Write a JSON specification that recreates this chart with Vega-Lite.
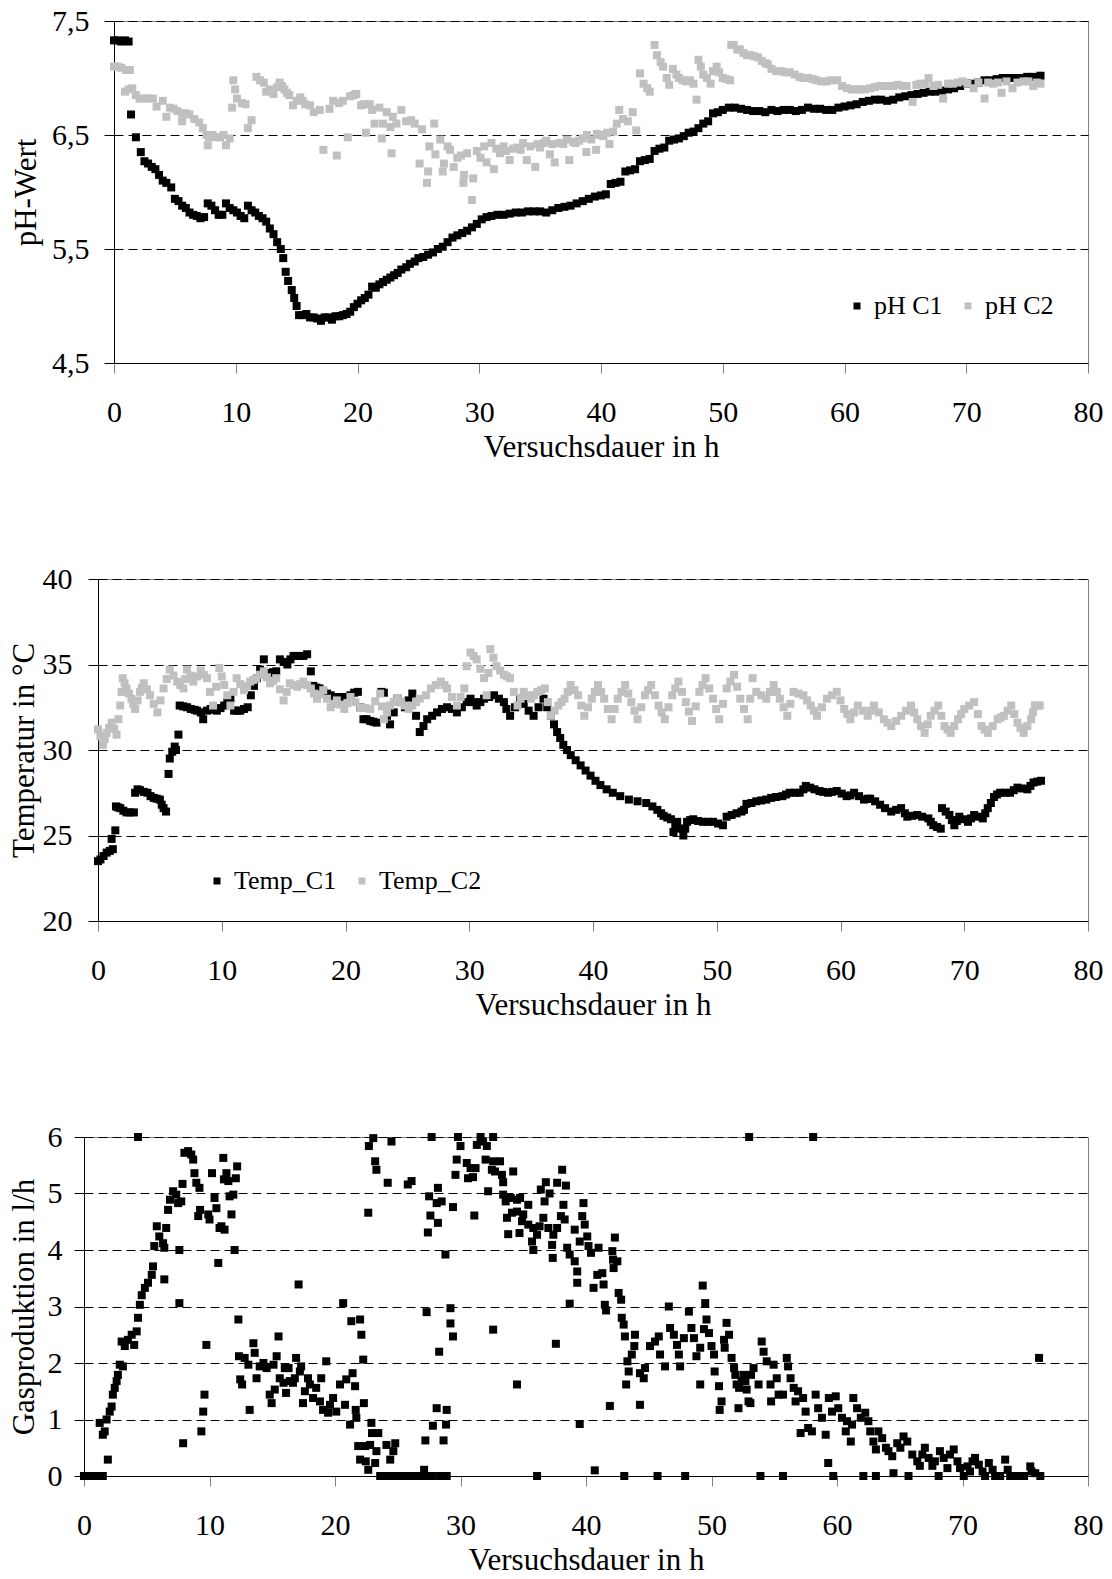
{
"$schema": "https://vega.github.io/schema/vega-lite/v6.json",
"background": "white",
"padding": {"left": 0, "top": 5, "right": 0, "bottom": 0},
"spacing": 100,
"resolve": {"scale": {"x": "independent", "y": "independent", "color": "independent"}, "legend": {"color": "independent"}},
"config": {
  "font": "Liberation Serif",
  "view": {"stroke": "#808080", "strokeWidth": 1},
  "axis": {"labelFont": "Liberation Serif", "titleFont": "Liberation Serif", "labelFontSize": 30, "titleFontSize": 31, "titleFontWeight": "normal", "labelColor": "#000000", "titleColor": "#000000", "domainColor": "#000000", "domainWidth": 1, "tickSize": 10, "tickWidth": 1, "labelFlush": false, "labelOverlap": false},
  "axisX": {"grid": false, "tickColor": "#808080", "labelPadding": 24},
  "axisY": {"grid": true, "gridColor": "#000000", "gridDash": [9, 5], "gridWidth": 1, "tickColor": "#000000"},
  "legend": {"orient": "none", "direction": "horizontal", "labelFont": "Liberation Serif", "labelFontSize": 26, "labelColor": "#000000", "symbolType": "square", "symbolSize": 49, "symbolStrokeWidth": 0, "labelOffset": 4, "columnPadding": 12, "padding": 0}
},
"datasets": {
"ph1": [{"t":0,"y":7.33},{"t":0.3,"y":7.33},{"t":0.6,"y":7.32},{"t":0.9,"y":7.33},{"t":1.2,"y":7.32},{"t":1.4,"y":6.68},{"t":1.8,"y":6.48},{"t":2.2,"y":6.35},{"t":2.5,"y":6.27},{"t":2.8,"y":6.25},{"t":3.1,"y":6.22},{"t":3.4,"y":6.2},{"t":3.7,"y":6.15},{"t":4.0,"y":6.1},{"t":4.3,"y":6.08},{"t":4.7,"y":6.04},{"t":5.0,"y":5.94},{"t":5.3,"y":5.92},{"t":5.6,"y":5.88},{"t":5.9,"y":5.86},{"t":6.2,"y":5.82},{"t":6.5,"y":5.8},{"t":6.8,"y":5.79},{"t":7.1,"y":5.77},{"t":7.4,"y":5.78},{"t":7.7,"y":5.9},{"t":8.0,"y":5.88},{"t":8.3,"y":5.84},{"t":8.6,"y":5.8},{"t":8.9,"y":5.8},{"t":9.2,"y":5.9},{"t":9.5,"y":5.86},{"t":9.8,"y":5.84},{"t":10.1,"y":5.82},{"t":10.4,"y":5.79},{"t":10.7,"y":5.77},{"t":11.0,"y":5.88},{"t":11.3,"y":5.84},{"t":11.6,"y":5.82},{"t":11.9,"y":5.79},{"t":12.2,"y":5.77},{"t":12.5,"y":5.74},{"t":12.8,"y":5.68},{"t":13.1,"y":5.63},{"t":13.4,"y":5.56},{"t":13.7,"y":5.5},{"t":13.9,"y":5.42},{"t":14.1,"y":5.3},{"t":14.3,"y":5.22},{"t":14.6,"y":5.14},{"t":14.8,"y":5.07},{"t":15.0,"y":5.0},{"t":15.2,"y":4.92},{"t":15.5,"y":4.92},{"t":15.8,"y":4.93},{"t":16.1,"y":4.9},{"t":16.4,"y":4.9},{"t":16.7,"y":4.89},{"t":17.0,"y":4.87},{"t":17.3,"y":4.9},{"t":17.6,"y":4.9},{"t":17.9,"y":4.88},{"t":18.2,"y":4.91},{"t":18.5,"y":4.91},{"t":18.8,"y":4.92},{"t":19.1,"y":4.93},{"t":19.4,"y":4.95},{"t":19.7,"y":4.99},{"t":20.0,"y":5.02},{"t":20.3,"y":5.05},{"t":20.6,"y":5.07},{"t":20.9,"y":5.1},{"t":21.2,"y":5.17},{"t":21.5,"y":5.16},{"t":21.8,"y":5.19},{"t":22.1,"y":5.21},{"t":22.4,"y":5.23},{"t":22.7,"y":5.25},{"t":23.0,"y":5.27},{"t":23.3,"y":5.29},{"t":23.6,"y":5.32},{"t":24.0,"y":5.34},{"t":24.3,"y":5.37},{"t":24.7,"y":5.39},{"t":25.0,"y":5.42},{"t":25.4,"y":5.43},{"t":25.8,"y":5.45},{"t":26.2,"y":5.47},{"t":26.6,"y":5.5},{"t":27.0,"y":5.52},{"t":27.4,"y":5.56},{"t":27.8,"y":5.6},{"t":28.2,"y":5.62},{"t":28.6,"y":5.64},{"t":29.0,"y":5.66},{"t":29.4,"y":5.69},{"t":29.8,"y":5.72},{"t":30.2,"y":5.76},{"t":30.6,"y":5.78},{"t":31.0,"y":5.79},{"t":31.5,"y":5.8},{"t":32.0,"y":5.8},{"t":32.5,"y":5.81},{"t":33.0,"y":5.82},{"t":33.5,"y":5.82},{"t":34.0,"y":5.83},{"t":34.5,"y":5.83},{"t":35.0,"y":5.83},{"t":35.5,"y":5.82},{"t":36.0,"y":5.84},{"t":36.5,"y":5.86},{"t":37.0,"y":5.87},{"t":37.5,"y":5.88},{"t":38.0,"y":5.9},{"t":38.5,"y":5.92},{"t":39.0,"y":5.94},{"t":39.5,"y":5.96},{"t":40.0,"y":5.97},{"t":40.4,"y":5.98},{"t":40.8,"y":6.07},{"t":41.2,"y":6.08},{"t":41.6,"y":6.09},{"t":42.0,"y":6.18},{"t":42.4,"y":6.19},{"t":42.8,"y":6.2},{"t":43.2,"y":6.27},{"t":43.6,"y":6.28},{"t":44.0,"y":6.29},{"t":44.4,"y":6.36},{"t":44.8,"y":6.38},{"t":45.2,"y":6.39},{"t":45.6,"y":6.45},{"t":46.0,"y":6.46},{"t":46.4,"y":6.47},{"t":46.8,"y":6.49},{"t":47.2,"y":6.52},{"t":47.6,"y":6.53},{"t":48.0,"y":6.56},{"t":48.4,"y":6.6},{"t":48.8,"y":6.62},{"t":49.2,"y":6.69},{"t":49.6,"y":6.7},{"t":50.0,"y":6.72},{"t":50.5,"y":6.74},{"t":51.0,"y":6.74},{"t":51.5,"y":6.73},{"t":52.0,"y":6.72},{"t":52.5,"y":6.71},{"t":53.0,"y":6.71},{"t":53.5,"y":6.7},{"t":54.0,"y":6.72},{"t":54.5,"y":6.71},{"t":55.0,"y":6.72},{"t":55.5,"y":6.72},{"t":56.0,"y":6.71},{"t":56.5,"y":6.72},{"t":57.0,"y":6.74},{"t":57.5,"y":6.73},{"t":58.0,"y":6.73},{"t":58.5,"y":6.72},{"t":59.0,"y":6.72},{"t":59.5,"y":6.74},{"t":60.0,"y":6.75},{"t":60.5,"y":6.76},{"t":61.0,"y":6.77},{"t":61.5,"y":6.79},{"t":62.0,"y":6.8},{"t":62.5,"y":6.81},{"t":63.0,"y":6.81},{"t":63.5,"y":6.8},{"t":64.0,"y":6.81},{"t":64.5,"y":6.83},{"t":65.0,"y":6.84},{"t":65.5,"y":6.85},{"t":66.0,"y":6.86},{"t":66.5,"y":6.87},{"t":67.0,"y":6.88},{"t":67.5,"y":6.88},{"t":68.0,"y":6.89},{"t":68.5,"y":6.9},{"t":69.0,"y":6.91},{"t":69.5,"y":6.93},{"t":70.0,"y":6.95},{"t":70.5,"y":6.95},{"t":71.0,"y":6.96},{"t":71.5,"y":6.98},{"t":72.0,"y":6.98},{"t":72.5,"y":6.99},{"t":73.0,"y":7.0},{"t":73.5,"y":7.0},{"t":74.0,"y":7.0},{"t":74.5,"y":7.0},{"t":75.0,"y":7.01},{"t":75.5,"y":7.01},{"t":76.1,"y":7.02}],
"ph2": [{"t":0,"y":7.1},{"t":0.3,"y":7.1},{"t":0.6,"y":7.09},{"t":1.0,"y":7.07},{"t":1.3,"y":7.07},{"t":0.9,"y":6.88},{"t":1.2,"y":6.9},{"t":1.5,"y":6.91},{"t":1.8,"y":6.85},{"t":2.1,"y":6.82},{"t":2.5,"y":6.82},{"t":2.8,"y":6.82},{"t":3.2,"y":6.82},{"t":3.5,"y":6.75},{"t":4.0,"y":6.8},{"t":4.3,"y":6.66},{"t":4.6,"y":6.74},{"t":4.9,"y":6.73},{"t":5.2,"y":6.71},{"t":5.6,"y":6.69},{"t":5.6,"y":6.62},{"t":5.9,"y":6.69},{"t":6.2,"y":6.68},{"t":6.6,"y":6.64},{"t":7.0,"y":6.61},{"t":7.3,"y":6.56},{"t":7.6,"y":6.5},{"t":7.8,"y":6.48},{"t":7.7,"y":6.41},{"t":8.1,"y":6.5},{"t":8.4,"y":6.48},{"t":8.7,"y":6.48},{"t":9.0,"y":6.5},{"t":9.2,"y":6.41},{"t":9.5,"y":6.47},{"t":9.7,"y":6.74},{"t":9.8,"y":6.98},{"t":9.95,"y":6.9},{"t":10.1,"y":6.82},{"t":10.5,"y":6.78},{"t":10.8,"y":6.77},{"t":11.0,"y":6.56},{"t":11.3,"y":6.63},{"t":11.7,"y":7.01},{"t":12.0,"y":6.98},{"t":12.3,"y":6.96},{"t":12.5,"y":6.88},{"t":12.8,"y":6.9},{"t":13.1,"y":6.86},{"t":13.4,"y":6.92},{"t":13.6,"y":6.96},{"t":13.8,"y":6.93},{"t":14.0,"y":6.9},{"t":14.2,"y":6.87},{"t":14.4,"y":6.85},{"t":14.7,"y":6.76},{"t":15.0,"y":6.8},{"t":15.3,"y":6.83},{"t":15.5,"y":6.8},{"t":15.7,"y":6.77},{"t":16.1,"y":6.76},{"t":16.4,"y":6.7},{"t":16.9,"y":6.72},{"t":17.2,"y":6.37},{"t":17.7,"y":6.73},{"t":18.0,"y":6.8},{"t":18.3,"y":6.32},{"t":18.5,"y":6.78},{"t":18.8,"y":6.8},{"t":19.2,"y":6.48},{"t":19.4,"y":6.84},{"t":19.7,"y":6.85},{"t":19.9,"y":6.86},{"t":20.3,"y":6.76},{"t":20.5,"y":6.77},{"t":20.7,"y":6.52},{"t":21.0,"y":6.77},{"t":21.2,"y":6.72},{"t":21.4,"y":6.6},{"t":21.8,"y":6.74},{"t":22.0,"y":6.47},{"t":22.1,"y":6.6},{"t":22.4,"y":6.7},{"t":22.7,"y":6.57},{"t":22.8,"y":6.34},{"t":22.9,"y":6.66},{"t":23.2,"y":6.6},{"t":23.6,"y":6.72},{"t":24.0,"y":6.62},{"t":24.4,"y":6.63},{"t":24.7,"y":6.6},{"t":25.1,"y":6.25},{"t":25.3,"y":6.55},{"t":25.7,"y":6.08},{"t":25.8,"y":6.18},{"t":25.9,"y":6.4},{"t":26.3,"y":6.6},{"t":26.4,"y":6.33},{"t":26.8,"y":6.46},{"t":27.0,"y":6.18},{"t":27.1,"y":6.25},{"t":27.4,"y":6.4},{"t":27.6,"y":6.37},{"t":27.9,"y":6.22},{"t":28.2,"y":6.3},{"t":28.5,"y":6.32},{"t":28.7,"y":6.08},{"t":28.75,"y":6.15},{"t":29.0,"y":6.34},{"t":29.4,"y":5.93},{"t":29.5,"y":6.12},{"t":29.8,"y":6.36},{"t":30.1,"y":6.3},{"t":30.4,"y":6.4},{"t":30.6,"y":6.26},{"t":31.0,"y":6.43},{"t":31.2,"y":6.2},{"t":31.4,"y":6.38},{"t":31.7,"y":6.34},{"t":32.0,"y":6.4},{"t":32.2,"y":6.36},{"t":32.5,"y":6.28},{"t":32.8,"y":6.38},{"t":33.1,"y":6.39},{"t":33.4,"y":6.37},{"t":33.6,"y":6.43},{"t":33.9,"y":6.28},{"t":34.2,"y":6.4},{"t":34.6,"y":6.22},{"t":34.8,"y":6.42},{"t":35.0,"y":6.39},{"t":35.3,"y":6.43},{"t":35.5,"y":6.45},{"t":35.8,"y":6.33},{"t":36.0,"y":6.42},{"t":36.2,"y":6.26},{"t":36.6,"y":6.43},{"t":36.9,"y":6.42},{"t":37.2,"y":6.46},{"t":37.4,"y":6.28},{"t":37.7,"y":6.44},{"t":37.9,"y":6.43},{"t":38.2,"y":6.45},{"t":38.5,"y":6.47},{"t":38.8,"y":6.35},{"t":38.85,"y":6.5},{"t":39.2,"y":6.46},{"t":39.6,"y":6.37},{"t":39.65,"y":6.51},{"t":39.9,"y":6.5},{"t":40.2,"y":6.49},{"t":40.5,"y":6.52},{"t":40.7,"y":6.42},{"t":41.0,"y":6.53},{"t":41.3,"y":6.6},{"t":41.5,"y":6.72},{"t":41.8,"y":6.64},{"t":42.2,"y":6.62},{"t":42.6,"y":6.7},{"t":42.9,"y":6.54},{"t":43.2,"y":7.04},{"t":43.5,"y":6.95},{"t":43.8,"y":6.91},{"t":44.0,"y":6.88},{"t":44.4,"y":7.29},{"t":44.6,"y":7.2},{"t":44.9,"y":7.14},{"t":45.1,"y":7.1},{"t":45.4,"y":7.0},{"t":45.6,"y":6.94},{"t":45.9,"y":7.08},{"t":46.2,"y":7.03},{"t":46.4,"y":7.0},{"t":46.7,"y":6.98},{"t":47.0,"y":6.97},{"t":47.3,"y":6.98},{"t":47.6,"y":6.95},{"t":47.85,"y":6.81},{"t":48.0,"y":7.16},{"t":48.2,"y":7.1},{"t":48.4,"y":7.03},{"t":48.7,"y":7.0},{"t":49.0,"y":6.95},{"t":49.2,"y":7.06},{"t":49.5,"y":7.1},{"t":49.7,"y":7.05},{"t":50.0,"y":7.0},{"t":50.3,"y":6.99},{"t":50.6,"y":6.98},{"t":50.7,"y":7.29},{"t":50.9,"y":7.29},{"t":51.2,"y":7.25},{"t":51.4,"y":7.25},{"t":51.7,"y":7.22},{"t":52.0,"y":7.2},{"t":52.3,"y":7.2},{"t":52.6,"y":7.19},{"t":52.9,"y":7.18},{"t":53.2,"y":7.15},{"t":53.5,"y":7.13},{"t":53.7,"y":7.12},{"t":54.0,"y":7.08},{"t":54.4,"y":7.06},{"t":54.8,"y":7.06},{"t":55.1,"y":7.05},{"t":55.5,"y":7.05},{"t":55.9,"y":7.03},{"t":56.3,"y":7.01},{"t":56.6,"y":7.0},{"t":57.0,"y":7.0},{"t":57.4,"y":6.99},{"t":57.7,"y":6.98},{"t":58.1,"y":6.97},{"t":58.5,"y":6.97},{"t":58.9,"y":6.98},{"t":59.4,"y":6.98},{"t":59.8,"y":6.93},{"t":60.2,"y":6.91},{"t":60.6,"y":6.9},{"t":61.0,"y":6.9},{"t":61.3,"y":6.9},{"t":61.7,"y":6.9},{"t":62.1,"y":6.91},{"t":62.5,"y":6.92},{"t":62.9,"y":6.93},{"t":63.3,"y":6.93},{"t":63.7,"y":6.93},{"t":64.0,"y":6.93},{"t":64.4,"y":6.94},{"t":64.8,"y":6.93},{"t":65.1,"y":6.93},{"t":65.6,"y":6.79},{"t":65.9,"y":6.94},{"t":66.2,"y":6.95},{"t":66.6,"y":6.95},{"t":66.9,"y":7.0},{"t":67.3,"y":6.93},{"t":67.7,"y":6.94},{"t":68.1,"y":6.82},{"t":68.5,"y":6.95},{"t":68.9,"y":6.95},{"t":69.3,"y":6.96},{"t":69.7,"y":6.97},{"t":70.1,"y":6.95},{"t":70.6,"y":6.91},{"t":71.0,"y":6.96},{"t":71.5,"y":6.82},{"t":71.8,"y":6.96},{"t":72.2,"y":6.95},{"t":72.6,"y":6.96},{"t":72.9,"y":6.87},{"t":73.3,"y":6.97},{"t":73.8,"y":6.91},{"t":74.2,"y":6.96},{"t":74.7,"y":6.97},{"t":75.1,"y":6.97},{"t":75.5,"y":6.93},{"t":75.8,"y":6.96},{"t":76.1,"y":6.95}],
"t1": [{"t":0,"y":23.5},{"t":0.2,"y":23.6},{"t":0.45,"y":23.8},{"t":0.7,"y":24.0},{"t":0.95,"y":24.1},{"t":1.2,"y":24.2},{"t":1.1,"y":24.8},{"t":1.4,"y":25.3},{"t":1.45,"y":26.7},{"t":1.6,"y":26.65},{"t":1.8,"y":26.6},{"t":2.05,"y":26.45},{"t":2.3,"y":26.35},{"t":2.6,"y":26.35},{"t":2.9,"y":26.35},{"t":3.0,"y":27.5},{"t":3.2,"y":27.7},{"t":3.4,"y":27.65},{"t":3.7,"y":27.55},{"t":4.0,"y":27.5},{"t":4.25,"y":27.3},{"t":4.5,"y":27.2},{"t":4.75,"y":27.15},{"t":5.0,"y":27.1},{"t":5.15,"y":26.8},{"t":5.3,"y":26.6},{"t":5.5,"y":26.4},{"t":5.7,"y":28.6},{"t":5.8,"y":29.5},{"t":6.0,"y":29.9},{"t":6.2,"y":30.2},{"t":6.3,"y":30.0},{"t":6.5,"y":30.9},{"t":6.6,"y":32.6},{"t":6.9,"y":32.55},{"t":7.2,"y":32.5},{"t":7.5,"y":32.4},{"t":7.8,"y":32.35},{"t":8.0,"y":32.3},{"t":8.3,"y":32.2},{"t":8.5,"y":31.8},{"t":8.8,"y":32.3},{"t":9.1,"y":32.4},{"t":9.35,"y":32.35},{"t":9.6,"y":32.3},{"t":9.9,"y":32.45},{"t":10.2,"y":32.6},{"t":10.45,"y":32.8},{"t":10.7,"y":33.0},{"t":11.0,"y":32.3},{"t":11.25,"y":32.3},{"t":11.5,"y":32.3},{"t":11.8,"y":32.4},{"t":12.1,"y":32.5},{"t":12.35,"y":33.2},{"t":12.6,"y":33.75},{"t":12.85,"y":34.2},{"t":13.1,"y":34.7},{"t":13.4,"y":35.3},{"t":13.6,"y":34.4},{"t":13.9,"y":34.5},{"t":14.15,"y":34.55},{"t":14.4,"y":34.6},{"t":14.7,"y":35.3},{"t":15.0,"y":35.15},{"t":15.3,"y":35.0},{"t":15.55,"y":35.3},{"t":15.8,"y":35.5},{"t":16.1,"y":35.5},{"t":16.35,"y":35.5},{"t":16.6,"y":35.5},{"t":16.9,"y":35.6},{"t":17.2,"y":34.6},{"t":17.4,"y":33.75},{"t":17.65,"y":33.65},{"t":17.9,"y":33.6},{"t":18.2,"y":33.4},{"t":18.5,"y":33.3},{"t":18.8,"y":33.2},{"t":19.05,"y":33.1},{"t":19.3,"y":33.0},{"t":19.6,"y":33.1},{"t":19.85,"y":33.1},{"t":20.1,"y":33.1},{"t":20.4,"y":33.2},{"t":20.7,"y":33.35},{"t":21.0,"y":33.4},{"t":21.2,"y":32.5},{"t":21.45,"y":31.8},{"t":21.7,"y":31.8},{"t":22.0,"y":31.7},{"t":22.25,"y":31.65},{"t":22.5,"y":31.6},{"t":22.9,"y":33.4},{"t":23.1,"y":33.35},{"t":23.35,"y":32.0},{"t":23.6,"y":31.5},{"t":23.9,"y":32.2},{"t":24.2,"y":33.0},{"t":24.5,"y":32.8},{"t":24.8,"y":32.5},{"t":25.1,"y":32.9},{"t":25.4,"y":33.3},{"t":25.7,"y":32.0},{"t":26.0,"y":31.05},{"t":26.3,"y":31.4},{"t":26.6,"y":31.8},{"t":27.0,"y":32.0},{"t":27.4,"y":32.2},{"t":27.8,"y":32.4},{"t":28.2,"y":32.5},{"t":28.6,"y":32.4},{"t":29.0,"y":32.2},{"t":29.4,"y":32.5},{"t":29.8,"y":32.8},{"t":30.1,"y":33.0},{"t":30.4,"y":32.8},{"t":30.6,"y":32.6},{"t":30.9,"y":32.8},{"t":31.2,"y":33.0},{"t":31.6,"y":33.1},{"t":32.0,"y":33.2},{"t":32.4,"y":33.0},{"t":32.8,"y":32.8},{"t":33.0,"y":32.4},{"t":33.3,"y":32.0},{"t":33.7,"y":32.5},{"t":34.1,"y":33.0},{"t":34.4,"y":32.7},{"t":34.8,"y":32.3},{"t":35.2,"y":32.0},{"t":35.6,"y":32.5},{"t":36.0,"y":33.0},{"t":36.3,"y":32.5},{"t":36.6,"y":32.0},{"t":36.85,"y":31.5},{"t":37.1,"y":31.05},{"t":37.35,"y":30.7},{"t":37.6,"y":30.3},{"t":37.9,"y":30.0},{"t":38.2,"y":29.7},{"t":38.6,"y":29.4},{"t":39.0,"y":29.1},{"t":39.4,"y":28.8},{"t":39.8,"y":28.5},{"t":40.2,"y":28.2},{"t":40.6,"y":27.95},{"t":41.1,"y":27.7},{"t":41.6,"y":27.5},{"t":42.2,"y":27.3},{"t":42.9,"y":27.1},{"t":43.6,"y":27.0},{"t":44.3,"y":26.9},{"t":44.8,"y":26.7},{"t":45.2,"y":26.5},{"t":45.5,"y":26.3},{"t":45.7,"y":26.15},{"t":46.0,"y":26.05},{"t":46.3,"y":25.95},{"t":46.5,"y":25.2},{"t":46.65,"y":25.5},{"t":46.8,"y":25.8},{"t":47.05,"y":25.4},{"t":47.3,"y":25.0},{"t":47.45,"y":25.4},{"t":47.6,"y":25.8},{"t":47.85,"y":25.9},{"t":48.1,"y":25.95},{"t":48.5,"y":25.85},{"t":48.9,"y":25.8},{"t":49.3,"y":25.8},{"t":49.7,"y":25.8},{"t":50.1,"y":25.7},{"t":50.5,"y":25.6},{"t":50.8,"y":26.1},{"t":51.2,"y":26.2},{"t":51.6,"y":26.3},{"t":52.0,"y":26.4},{"t":52.2,"y":26.5},{"t":52.4,"y":26.85},{"t":52.8,"y":26.9},{"t":53.2,"y":27.0},{"t":53.6,"y":27.05},{"t":54.0,"y":27.1},{"t":54.4,"y":27.2},{"t":54.8,"y":27.25},{"t":55.3,"y":27.3},{"t":55.6,"y":27.4},{"t":55.9,"y":27.5},{"t":56.3,"y":27.5},{"t":56.7,"y":27.5},{"t":57.0,"y":27.7},{"t":57.2,"y":27.9},{"t":57.55,"y":27.8},{"t":57.9,"y":27.7},{"t":58.3,"y":27.6},{"t":58.6,"y":27.55},{"t":59.0,"y":27.5},{"t":59.3,"y":27.55},{"t":59.7,"y":27.6},{"t":60.1,"y":27.45},{"t":60.5,"y":27.3},{"t":60.8,"y":27.35},{"t":61.1,"y":27.5},{"t":61.5,"y":27.3},{"t":61.9,"y":27.1},{"t":62.2,"y":27.15},{"t":62.4,"y":27.15},{"t":62.8,"y":27.0},{"t":63.2,"y":26.8},{"t":63.6,"y":26.6},{"t":64.1,"y":26.4},{"t":64.5,"y":26.5},{"t":64.9,"y":26.6},{"t":65.2,"y":26.3},{"t":65.4,"y":26.1},{"t":65.8,"y":26.15},{"t":66.2,"y":26.2},{"t":66.6,"y":26.1},{"t":67.1,"y":26.0},{"t":67.3,"y":25.8},{"t":67.5,"y":25.6},{"t":67.8,"y":25.5},{"t":68.1,"y":25.4},{"t":68.2,"y":26.6},{"t":68.5,"y":26.4},{"t":68.8,"y":26.2},{"t":69.0,"y":25.9},{"t":69.2,"y":25.6},{"t":69.4,"y":25.85},{"t":69.6,"y":26.1},{"t":69.95,"y":25.95},{"t":70.3,"y":25.8},{"t":70.55,"y":26.0},{"t":70.8,"y":26.2},{"t":71.15,"y":26.1},{"t":71.5,"y":26.0},{"t":71.7,"y":26.3},{"t":71.9,"y":26.6},{"t":72.15,"y":26.9},{"t":72.4,"y":27.25},{"t":72.65,"y":27.4},{"t":72.9,"y":27.5},{"t":73.3,"y":27.5},{"t":73.7,"y":27.5},{"t":74.0,"y":27.65},{"t":74.3,"y":27.8},{"t":74.7,"y":27.75},{"t":75.1,"y":27.7},{"t":75.35,"y":27.9},{"t":75.6,"y":28.1},{"t":75.9,"y":28.15},{"t":76.2,"y":28.2}],
"t2": [{"t":0,"y":31.2},{"t":0.2,"y":30.8},{"t":0.4,"y":30.3},{"t":0.55,"y":30.65},{"t":0.7,"y":31.0},{"t":0.9,"y":31.3},{"t":1.1,"y":31.6},{"t":1.3,"y":31.25},{"t":1.5,"y":30.9},{"t":1.65,"y":31.8},{"t":1.8,"y":32.6},{"t":1.9,"y":33.4},{"t":2.0,"y":34.2},{"t":2.15,"y":33.9},{"t":2.3,"y":33.6},{"t":2.5,"y":33.3},{"t":2.7,"y":33.0},{"t":2.85,"y":32.7},{"t":3.0,"y":32.4},{"t":3.2,"y":32.9},{"t":3.4,"y":33.4},{"t":3.55,"y":33.65},{"t":3.7,"y":33.9},{"t":3.95,"y":33.55},{"t":4.2,"y":33.2},{"t":4.5,"y":32.7},{"t":4.8,"y":32.2},{"t":5.05,"y":32.9},{"t":5.3,"y":33.6},{"t":5.55,"y":34.15},{"t":5.8,"y":34.7},{"t":6.1,"y":34.35},{"t":6.4,"y":34.0},{"t":6.65,"y":33.8},{"t":6.9,"y":33.6},{"t":7.05,"y":34.15},{"t":7.2,"y":34.7},{"t":7.45,"y":34.35},{"t":7.7,"y":34.0},{"t":8.0,"y":34.3},{"t":8.3,"y":34.65},{"t":8.55,"y":34.4},{"t":8.8,"y":34.2},{"t":9.05,"y":33.4},{"t":9.3,"y":32.6},{"t":9.55,"y":33.7},{"t":9.8,"y":34.8},{"t":10.0,"y":34.3},{"t":10.2,"y":33.8},{"t":10.45,"y":33.2},{"t":10.7,"y":32.6},{"t":10.95,"y":33.4},{"t":11.2,"y":34.2},{"t":11.5,"y":33.85},{"t":11.8,"y":33.5},{"t":12.05,"y":33.75},{"t":12.3,"y":34.0},{"t":12.55,"y":34.1},{"t":12.8,"y":34.2},{"t":13.1,"y":34.4},{"t":13.4,"y":34.6},{"t":13.65,"y":34.25},{"t":13.9,"y":33.9},{"t":14.15,"y":34.05},{"t":14.4,"y":34.2},{"t":14.7,"y":33.55},{"t":15.0,"y":32.9},{"t":15.25,"y":33.4},{"t":15.5,"y":33.9},{"t":15.8,"y":33.8},{"t":16.1,"y":33.7},{"t":16.35,"y":33.85},{"t":16.6,"y":34.0},{"t":16.9,"y":33.8},{"t":17.2,"y":33.6},{"t":17.45,"y":33.3},{"t":17.7,"y":33.0},{"t":17.95,"y":33.25},{"t":18.2,"y":33.5},{"t":18.5,"y":33.0},{"t":18.8,"y":32.5},{"t":19.05,"y":32.7},{"t":19.3,"y":32.9},{"t":19.6,"y":32.65},{"t":19.9,"y":32.4},{"t":20.15,"y":32.75},{"t":20.4,"y":33.1},{"t":20.8,"y":32.8},{"t":21.2,"y":32.5},{"t":21.6,"y":32.45},{"t":22.0,"y":32.4},{"t":22.4,"y":32.85},{"t":22.8,"y":33.3},{"t":22.95,"y":32.55},{"t":23.1,"y":31.8},{"t":23.35,"y":32.2},{"t":23.6,"y":32.6},{"t":23.9,"y":32.8},{"t":24.2,"y":33.0},{"t":24.5,"y":32.8},{"t":24.8,"y":32.6},{"t":25.1,"y":32.4},{"t":25.4,"y":32.6},{"t":25.7,"y":32.8},{"t":26.0,"y":33.0},{"t":26.5,"y":33.2},{"t":26.9,"y":33.6},{"t":27.3,"y":33.8},{"t":27.7,"y":34.0},{"t":28.0,"y":33.8},{"t":28.2,"y":33.6},{"t":28.6,"y":33.1},{"t":29.0,"y":32.6},{"t":29.3,"y":33.1},{"t":29.6,"y":33.6},{"t":29.8,"y":34.9},{"t":30.1,"y":35.7},{"t":30.35,"y":35.5},{"t":30.6,"y":35.3},{"t":30.9,"y":34.75},{"t":31.2,"y":34.2},{"t":31.4,"y":33.2},{"t":31.55,"y":34.5},{"t":31.7,"y":35.9},{"t":31.95,"y":35.4},{"t":32.2,"y":34.9},{"t":32.5,"y":34.65},{"t":32.8,"y":34.4},{"t":33.05,"y":34.3},{"t":33.3,"y":34.2},{"t":33.6,"y":33.4},{"t":33.9,"y":32.6},{"t":34.15,"y":33.0},{"t":34.4,"y":33.4},{"t":34.7,"y":33.2},{"t":35.0,"y":33.0},{"t":35.25,"y":33.2},{"t":35.5,"y":33.4},{"t":35.8,"y":33.5},{"t":36.1,"y":33.6},{"t":36.35,"y":32.8},{"t":36.6,"y":32.0},{"t":36.9,"y":32.3},{"t":37.2,"y":32.6},{"t":37.45,"y":32.8},{"t":37.7,"y":33.0},{"t":37.95,"y":33.4},{"t":38.2,"y":33.8},{"t":38.5,"y":33.5},{"t":38.8,"y":33.2},{"t":39.05,"y":32.6},{"t":39.3,"y":32.0},{"t":39.6,"y":32.5},{"t":39.9,"y":33.0},{"t":40.15,"y":33.4},{"t":40.4,"y":33.8},{"t":40.65,"y":33.4},{"t":40.9,"y":33.0},{"t":41.2,"y":32.4},{"t":41.5,"y":31.8},{"t":41.75,"y":32.4},{"t":42.0,"y":33.0},{"t":42.3,"y":33.4},{"t":42.6,"y":33.8},{"t":42.85,"y":33.3},{"t":43.1,"y":32.8},{"t":43.35,"y":32.3},{"t":43.6,"y":31.8},{"t":43.9,"y":32.5},{"t":44.2,"y":33.2},{"t":44.45,"y":33.5},{"t":44.7,"y":33.8},{"t":45.0,"y":33.2},{"t":45.3,"y":32.6},{"t":45.55,"y":32.2},{"t":45.8,"y":31.8},{"t":46.1,"y":32.5},{"t":46.4,"y":33.2},{"t":46.65,"y":33.6},{"t":46.9,"y":34.0},{"t":47.2,"y":33.4},{"t":47.5,"y":32.8},{"t":47.75,"y":32.25},{"t":48.0,"y":31.7},{"t":48.3,"y":32.55},{"t":48.6,"y":33.4},{"t":48.85,"y":33.8},{"t":49.1,"y":34.2},{"t":49.4,"y":33.6},{"t":49.7,"y":33.0},{"t":49.95,"y":32.4},{"t":50.2,"y":31.8},{"t":50.5,"y":32.7},{"t":50.8,"y":33.6},{"t":51.1,"y":34.0},{"t":51.4,"y":34.4},{"t":51.65,"y":33.7},{"t":51.9,"y":33.0},{"t":52.2,"y":32.4},{"t":52.5,"y":31.8},{"t":52.7,"y":33.0},{"t":52.9,"y":34.2},{"t":53.2,"y":33.4},{"t":53.6,"y":33.2},{"t":54.0,"y":33.0},{"t":54.3,"y":33.4},{"t":54.6,"y":33.8},{"t":54.85,"y":33.4},{"t":55.1,"y":33.0},{"t":55.4,"y":32.5},{"t":55.7,"y":32.0},{"t":55.95,"y":32.7},{"t":56.2,"y":33.4},{"t":56.6,"y":33.3},{"t":57.0,"y":33.2},{"t":57.3,"y":32.9},{"t":57.6,"y":32.6},{"t":57.85,"y":32.3},{"t":58.1,"y":32.0},{"t":58.5,"y":32.5},{"t":58.9,"y":33.0},{"t":59.3,"y":33.2},{"t":59.7,"y":33.4},{"t":60.0,"y":32.9},{"t":60.3,"y":32.4},{"t":60.55,"y":32.1},{"t":60.8,"y":31.8},{"t":61.1,"y":32.2},{"t":61.4,"y":32.6},{"t":61.8,"y":32.3},{"t":62.2,"y":32.0},{"t":62.45,"y":32.3},{"t":62.7,"y":32.6},{"t":63.1,"y":32.2},{"t":63.5,"y":31.8},{"t":63.8,"y":31.6},{"t":64.1,"y":31.4},{"t":64.5,"y":31.7},{"t":64.9,"y":32.0},{"t":65.3,"y":32.3},{"t":65.7,"y":32.6},{"t":65.95,"y":32.2},{"t":66.2,"y":31.8},{"t":66.5,"y":31.4},{"t":66.8,"y":31.0},{"t":67.05,"y":31.5},{"t":67.3,"y":32.0},{"t":67.6,"y":32.3},{"t":67.9,"y":32.6},{"t":68.15,"y":32.0},{"t":68.4,"y":31.4},{"t":68.65,"y":31.2},{"t":68.9,"y":31.0},{"t":69.2,"y":31.4},{"t":69.5,"y":31.8},{"t":69.75,"y":32.1},{"t":70.0,"y":32.4},{"t":70.4,"y":32.6},{"t":70.8,"y":32.8},{"t":71.1,"y":32.1},{"t":71.4,"y":31.4},{"t":71.65,"y":31.2},{"t":71.9,"y":31.0},{"t":72.3,"y":31.4},{"t":72.7,"y":31.8},{"t":72.95,"y":31.9},{"t":73.2,"y":32.0},{"t":73.5,"y":32.3},{"t":73.8,"y":32.6},{"t":74.05,"y":32.1},{"t":74.3,"y":31.6},{"t":74.55,"y":31.3},{"t":74.8,"y":31.0},{"t":75.1,"y":31.4},{"t":75.4,"y":31.8},{"t":75.55,"y":32.2},{"t":75.7,"y":32.6},{"t":75.9,"y":32.6},{"t":76.1,"y":32.6}],
"gas": [{"t":0,"y":0},{"t":0.3,"y":0},{"t":0.6,"y":0},{"t":0.9,"y":0},{"t":1.2,"y":0},{"t":1.5,"y":0},{"t":1.25,"y":0.94},{"t":1.5,"y":0.73},{"t":1.65,"y":0.79},{"t":1.9,"y":0.29},{"t":1.8,"y":1.0},{"t":2.05,"y":1.14},{"t":2.2,"y":1.23},{"t":2.3,"y":1.44},{"t":2.45,"y":1.56},{"t":2.6,"y":1.68},{"t":2.7,"y":1.79},{"t":2.85,"y":1.97},{"t":3.1,"y":1.94},{"t":3.0,"y":2.38},{"t":3.25,"y":2.3},{"t":3.5,"y":2.41},{"t":3.8,"y":2.5},{"t":4.0,"y":2.32},{"t":4.2,"y":2.56},{"t":4.3,"y":2.8},{"t":4.3,"y":6.0},{"t":4.45,"y":3.03},{"t":4.6,"y":3.2},{"t":4.85,"y":3.33},{"t":5.1,"y":3.42},{"t":5.4,"y":3.56},{"t":5.5,"y":3.71},{"t":5.6,"y":4.07},{"t":5.8,"y":4.42},{"t":6.0,"y":4.24},{"t":6.3,"y":4.12},{"t":6.4,"y":4.04},{"t":6.4,"y":3.48},{"t":6.55,"y":4.39},{"t":6.7,"y":4.71},{"t":6.85,"y":4.89},{"t":7.1,"y":5.04},{"t":7.35,"y":4.98},{"t":7.5,"y":4.83},{"t":7.75,"y":4.86},{"t":7.6,"y":4.0},{"t":7.6,"y":3.06},{"t":7.85,"y":5.17},{"t":7.9,"y":0.58},{"t":8.0,"y":5.72},{"t":8.3,"y":5.75},{"t":8.55,"y":5.69},{"t":8.7,"y":5.6},{"t":8.8,"y":5.36},{"t":8.95,"y":5.19},{"t":9.1,"y":4.6},{"t":9.2,"y":5.1},{"t":9.25,"y":4.71},{"t":9.35,"y":0.79},{"t":9.5,"y":1.14},{"t":9.6,"y":1.44},{"t":9.75,"y":2.32},{"t":9.9,"y":4.63},{"t":10.0,"y":4.54},{"t":10.2,"y":5.36},{"t":10.4,"y":4.92},{"t":10.55,"y":4.74},{"t":10.7,"y":3.77},{"t":10.8,"y":4.39},{"t":10.95,"y":4.42},{"t":11.1,"y":5.63},{"t":11.15,"y":5.25},{"t":11.2,"y":4.36},{"t":11.35,"y":5.36},{"t":11.5,"y":5.22},{"t":11.6,"y":4.95},{"t":11.75,"y":4.63},{"t":11.9,"y":4.98},{"t":12.0,"y":4.0},{"t":12.1,"y":5.27},{"t":12.2,"y":5.48},{"t":12.3,"y":2.77},{"t":12.35,"y":2.12},{"t":12.45,"y":1.71},{"t":12.6,"y":1.62},{"t":12.8,"y":2.09},{"t":13.1,"y":1.97},{"t":13.2,"y":1.17},{"t":13.5,"y":2.35},{"t":13.6,"y":2.18},{"t":13.75,"y":1.73},{"t":14.0,"y":1.94},{"t":14.3,"y":2.0},{"t":14.55,"y":1.91},{"t":14.8,"y":1.44},{"t":14.95,"y":1.29},{"t":15.1,"y":1.97},{"t":15.2,"y":1.53},{"t":15.35,"y":2.12},{"t":15.5,"y":2.47},{"t":15.6,"y":1.73},{"t":15.9,"y":1.65},{"t":16.0,"y":1.91},{"t":16.1,"y":1.47},{"t":16.3,"y":1.91},{"t":16.4,"y":1.68},{"t":16.65,"y":1.65},{"t":16.8,"y":1.73},{"t":16.9,"y":2.09},{"t":17.1,"y":3.39},{"t":17.2,"y":1.85},{"t":17.3,"y":1.94},{"t":17.45,"y":1.29},{"t":17.6,"y":1.5},{"t":17.85,"y":1.73},{"t":18.0,"y":1.62},{"t":18.25,"y":1.38},{"t":18.5,"y":1.56},{"t":18.8,"y":1.32},{"t":18.9,"y":1.73},{"t":19.05,"y":1.17},{"t":19.3,"y":2.03},{"t":19.45,"y":1.12},{"t":19.6,"y":1.26},{"t":19.85,"y":1.38},{"t":20.1,"y":1.14},{"t":20.4,"y":1.62},{"t":20.65,"y":3.06},{"t":20.8,"y":1.26},{"t":20.9,"y":1.71},{"t":21.2,"y":0.91},{"t":21.3,"y":2.74},{"t":21.4,"y":1.82},{"t":21.6,"y":1.59},{"t":21.65,"y":1.17},{"t":21.7,"y":1.03},{"t":21.85,"y":0.53},{"t":22.0,"y":2.77},{"t":22.0,"y":0.29},{"t":22.1,"y":2.5},{"t":22.25,"y":2.06},{"t":22.3,"y":1.29},{"t":22.4,"y":0.53},{"t":22.45,"y":0.26},{"t":22.65,"y":0.11},{"t":22.65,"y":4.66},{"t":22.7,"y":5.84},{"t":22.8,"y":0.55},{"t":22.9,"y":0.94},{"t":22.95,"y":0.76},{"t":23.05,"y":5.98},{"t":23.2,"y":5.57},{"t":23.3,"y":5.42},{"t":23.2,"y":0.23},{"t":23.3,"y":0.44},{"t":23.45,"y":0.76},{"t":23.6,"y":0},{"t":23.9,"y":0},{"t":24.1,"y":0.55},{"t":24.2,"y":5.19},{"t":24.4,"y":0.29},{"t":24.5,"y":5.92},{"t":24.65,"y":0.44},{"t":24.8,"y":0.58},{"t":24.2,"y":0},{"t":24.5,"y":0},{"t":24.8,"y":0},{"t":25.1,"y":0},{"t":25.4,"y":0},{"t":25.7,"y":0},{"t":26.0,"y":0},{"t":26.3,"y":0},{"t":26.6,"y":0},{"t":26.9,"y":0},{"t":27.1,"y":0.11},{"t":27.3,"y":0},{"t":25.8,"y":5.16},{"t":26.1,"y":5.22},{"t":27.7,"y":6.0},{"t":27.5,"y":4.95},{"t":28.2,"y":5.1},{"t":28.1,"y":4.83},{"t":28.5,"y":4.86},{"t":27.6,"y":4.61},{"t":28.2,"y":4.48},{"t":27.4,"y":4.31},{"t":28.8,"y":3.92},{"t":29.4,"y":4.76},{"t":27.3,"y":2.9},{"t":29.2,"y":2.97},{"t":29.2,"y":2.7},{"t":29.4,"y":2.47},{"t":28.3,"y":2.2},{"t":28.1,"y":1.2},{"t":28.9,"y":1.17},{"t":27.8,"y":0.89},{"t":28.85,"y":0.91},{"t":27.2,"y":0.63},{"t":28.65,"y":0.63},{"t":27.8,"y":0},{"t":28.4,"y":0},{"t":28.9,"y":0},{"t":29.8,"y":6.0},{"t":30.0,"y":5.84},{"t":29.7,"y":5.6},{"t":29.6,"y":5.33},{"t":30.5,"y":5.54},{"t":30.8,"y":5.45},{"t":31.2,"y":5.45},{"t":30.6,"y":5.27},{"t":31.0,"y":5.29},{"t":31.3,"y":5.86},{"t":31.6,"y":6.0},{"t":31.8,"y":5.92},{"t":32.1,"y":5.84},{"t":32.6,"y":6.0},{"t":32.0,"y":5.6},{"t":32.2,"y":5.04},{"t":32.6,"y":5.57},{"t":32.75,"y":5.39},{"t":33.15,"y":5.57},{"t":32.5,"y":5.42},{"t":33.3,"y":5.33},{"t":33.4,"y":5.2},{"t":34.2,"y":5.39},{"t":31.1,"y":4.61},{"t":32.6,"y":2.59},{"t":33.4,"y":4.98},{"t":33.6,"y":4.86},{"t":34.0,"y":4.92},{"t":34.5,"y":4.89},{"t":34.75,"y":4.92},{"t":33.7,"y":4.57},{"t":34.1,"y":4.66},{"t":34.5,"y":4.68},{"t":35.0,"y":4.63},{"t":35.4,"y":4.8},{"t":34.9,"y":4.51},{"t":35.4,"y":4.45},{"t":35.8,"y":4.39},{"t":36.1,"y":4.27},{"t":33.8,"y":4.28},{"t":34.7,"y":4.3},{"t":35.7,"y":4.15},{"t":35.8,"y":4.0},{"t":34.5,"y":1.62},{"t":36.1,"y":0},{"t":36.4,"y":5.07},{"t":36.8,"y":5.2},{"t":37.1,"y":5.0},{"t":36.7,"y":4.86},{"t":36.6,"y":4.57},{"t":36.3,"y":4.42},{"t":37.0,"y":4.39},{"t":37.4,"y":4.27},{"t":37.3,"y":4.09},{"t":37.35,"y":3.86},{"t":37.6,"y":2.34},{"t":37.7,"y":5.19},{"t":38.1,"y":5.42},{"t":38.4,"y":5.14},{"t":38.2,"y":4.8},{"t":38.0,"y":4.6},{"t":38.3,"y":4.54},{"t":37.7,"y":4.39},{"t":38.5,"y":4.04},{"t":38.7,"y":3.92},{"t":39.1,"y":3.8},{"t":39.3,"y":3.62},{"t":39.3,"y":3.42},{"t":38.7,"y":3.05},{"t":39.5,"y":0.92},{"t":39.1,"y":4.36},{"t":39.5,"y":4.15},{"t":39.7,"y":4.6},{"t":39.8,"y":4.83},{"t":39.9,"y":4.45},{"t":40.1,"y":4.24},{"t":40.2,"y":4.07},{"t":40.4,"y":3.95},{"t":40.7,"y":0.1},{"t":41.0,"y":4.04},{"t":40.6,"y":3.33},{"t":40.9,"y":3.56},{"t":41.3,"y":3.59},{"t":41.4,"y":3.39},{"t":41.5,"y":3.03},{"t":41.6,"y":2.93},{"t":41.9,"y":1.24},{"t":42.1,"y":3.98},{"t":42.15,"y":3.83},{"t":42.3,"y":4.22},{"t":42.2,"y":3.68},{"t":42.5,"y":3.8},{"t":42.6,"y":3.24},{"t":42.8,"y":3.12},{"t":42.85,"y":2.8},{"t":43.0,"y":2.68},{"t":43.1,"y":2.47},{"t":43.05,"y":0},{"t":43.3,"y":2.03},{"t":43.4,"y":1.85},{"t":43.2,"y":1.62},{"t":43.65,"y":2.15},{"t":43.9,"y":2.5},{"t":43.85,"y":2.3},{"t":44.3,"y":1.82},{"t":44.6,"y":1.73},{"t":44.3,"y":1.26},{"t":44.7,"y":1.91},{"t":45.1,"y":2.3},{"t":45.5,"y":2.38},{"t":45.7,"y":0},{"t":45.8,"y":2.47},{"t":45.9,"y":2.15},{"t":46.3,"y":1.94},{"t":46.6,"y":3.0},{"t":46.7,"y":2.62},{"t":47.0,"y":2.5},{"t":47.25,"y":2.32},{"t":47.4,"y":2.15},{"t":47.5,"y":1.94},{"t":47.8,"y":2.44},{"t":47.9,"y":0},{"t":48.2,"y":2.91},{"t":48.4,"y":2.62},{"t":48.6,"y":2.44},{"t":48.8,"y":2.12},{"t":49.1,"y":1.62},{"t":49.1,"y":2.27},{"t":49.3,"y":3.37},{"t":49.4,"y":2.6},{"t":49.5,"y":3.06},{"t":49.6,"y":2.77},{"t":49.8,"y":2.53},{"t":50.0,"y":2.3},{"t":50.2,"y":2.15},{"t":50.25,"y":1.85},{"t":50.6,"y":1.59},{"t":50.65,"y":1.17},{"t":50.8,"y":1.32},{"t":51.0,"y":2.41},{"t":51.2,"y":2.71},{"t":51.4,"y":2.5},{"t":51.05,"y":2.27},{"t":51.6,"y":2.09},{"t":51.8,"y":1.91},{"t":51.9,"y":1.79},{"t":52.0,"y":1.62},{"t":52.15,"y":1.2},{"t":52.2,"y":1.56},{"t":52.4,"y":1.68},{"t":52.55,"y":1.79},{"t":52.7,"y":1.68},{"t":52.8,"y":1.53},{"t":52.95,"y":1.32},{"t":53.0,"y":6.0},{"t":53.1,"y":1.29},{"t":53.15,"y":1.79},{"t":53.35,"y":1.91},{"t":53.75,"y":1.62},{"t":53.9,"y":0},{"t":54.0,"y":2.38},{"t":54.15,"y":2.2},{"t":54.4,"y":2.03},{"t":54.7,"y":1.62},{"t":54.75,"y":1.32},{"t":54.95,"y":1.97},{"t":55.2,"y":1.73},{"t":55.35,"y":1.44},{"t":55.7,"y":1.44},{"t":55.7,"y":0},{"t":56.0,"y":2.09},{"t":56.1,"y":1.94},{"t":56.3,"y":1.73},{"t":56.55,"y":1.56},{"t":56.7,"y":1.32},{"t":56.9,"y":1.5},{"t":57.1,"y":0.76},{"t":57.3,"y":1.38},{"t":57.5,"y":1.14},{"t":57.7,"y":0.85},{"t":58.0,"y":0.79},{"t":58.1,"y":6.0},{"t":58.3,"y":1.44},{"t":58.5,"y":1.2},{"t":58.8,"y":1.03},{"t":59.1,"y":0.73},{"t":59.3,"y":0.23},{"t":59.35,"y":1.38},{"t":59.6,"y":1.14},{"t":59.9,"y":1.41},{"t":59.7,"y":0},{"t":60.1,"y":1.2},{"t":60.4,"y":1.03},{"t":60.7,"y":0.79},{"t":60.8,"y":0.97},{"t":61.1,"y":0.61},{"t":61.2,"y":0.91},{"t":61.3,"y":1.38},{"t":61.6,"y":1.2},{"t":61.9,"y":1.03},{"t":62.1,"y":0},{"t":62.25,"y":1.12},{"t":62.5,"y":0.97},{"t":62.65,"y":0.79},{"t":62.9,"y":0.61},{"t":63.1,"y":0.47},{"t":63.1,"y":0},{"t":63.3,"y":0.79},{"t":63.6,"y":0.67},{"t":63.9,"y":0.5},{"t":64.1,"y":0.44},{"t":64.4,"y":0.35},{"t":64.5,"y":0.05},{"t":64.8,"y":0.58},{"t":65.05,"y":0.5},{"t":65.3,"y":0.7},{"t":65.6,"y":0.61},{"t":65.7,"y":0},{"t":66.0,"y":0.38},{"t":66.4,"y":0.26},{"t":66.6,"y":0.18},{"t":66.8,"y":0.38},{"t":67.0,"y":0.5},{"t":67.3,"y":0.32},{"t":67.6,"y":0.18},{"t":67.8,"y":0.26},{"t":68.1,"y":0},{"t":68.2,"y":0.44},{"t":68.5,"y":0.32},{"t":68.8,"y":0.14},{"t":69.0,"y":0.38},{"t":69.3,"y":0.47},{"t":69.6,"y":0.26},{"t":69.8,"y":0.14},{"t":70.1,"y":0},{"t":70.4,"y":0.17},{"t":70.6,"y":0.08},{"t":70.8,"y":0.26},{"t":71.0,"y":0.32},{"t":71.3,"y":0.2},{"t":71.6,"y":0.08},{"t":71.8,"y":0},{"t":72.1,"y":0.23},{"t":72.4,"y":0.11},{"t":72.6,"y":0},{"t":73.0,"y":0},{"t":73.4,"y":0.29},{"t":73.6,"y":0.11},{"t":73.8,"y":0},{"t":74.35,"y":0},{"t":74.9,"y":0},{"t":75.4,"y":0.17},{"t":75.5,"y":0.08},{"t":75.8,"y":0.05},{"t":76.1,"y":2.09},{"t":76.2,"y":0}]
},
"vconcat": [
 {
  "bounds": "flush", "spacing": 0,
  "hconcat": [
   {"width": 114, "height": 10, "data": {"values": []}, "mark": "point", "view": {"stroke": null, "fill": "white"}},
   {
    "width": 974, "height": 342,
    "layer": [
     {"data": {"name": "ph1"}, "mark": {"type": "point", "shape": "square", "size": 64, "filled": true, "opacity": 1},
      "encoding": {
       "x": {"field": "t", "type": "quantitative", "scale": {"domain": [0, 80], "nice": false}, "axis": {"values": [0, 10, 20, 30, 40, 50, 60, 70, 80], "title": "Versuchsdauer in h", "titleY": 93, "titleBaseline": "alphabetic"}},
       "y": {"field": "y", "type": "quantitative", "scale": {"domain": [4.5, 7.5], "nice": false, "zero": false}, "axis": {"values": [4.5, 5.5, 6.5, 7.5], "labelExpr": "replace(format(datum.value, '.1f'), '.', ',')", "title": "pH-Wert", "titleX": -103, "titleAngle": 270, "titleBaseline": "top", "labelPadding": 15}},
       "color": {"datum": "pH C1", "type": "nominal", "scale": {"domain": ["pH C1", "pH C2"], "range": ["#000000", "#c0c0c0"]}, "legend": {"title": null, "legendX": 844, "legendY": 272}}
      }},
     {"data": {"name": "ph2"}, "mark": {"type": "point", "shape": "square", "size": 64, "filled": true, "opacity": 1},
      "encoding": {
       "x": {"field": "t", "type": "quantitative"},
       "y": {"field": "y", "type": "quantitative"},
       "color": {"datum": "pH C2", "type": "nominal"}
      }}
    ]
   }
  ]
 },
 {
  "bounds": "flush", "spacing": 0,
  "hconcat": [
   {"width": 98, "height": 10, "data": {"values": []}, "mark": "point", "view": {"stroke": null, "fill": "white"}},
   {
    "width": 990, "height": 342,
    "layer": [
     {"data": {"name": "t1"}, "mark": {"type": "point", "shape": "square", "size": 64, "filled": true, "opacity": 1},
      "encoding": {
       "x": {"field": "t", "type": "quantitative", "scale": {"domain": [0, 80], "nice": false}, "axis": {"values": [0, 10, 20, 30, 40, 50, 60, 70, 80], "title": "Versuchsdauer in h", "titleY": 93, "titleBaseline": "alphabetic"}},
       "y": {"field": "y", "type": "quantitative", "scale": {"domain": [20, 40], "nice": false, "zero": false}, "axis": {"values": [20, 25, 30, 35, 40], "title": "Temperatur in °C", "titleX": -89, "titleAngle": 270, "titleBaseline": "top", "labelPadding": 16}},
       "color": {"datum": "Temp_C1", "type": "nominal", "scale": {"domain": ["Temp_C1", "Temp_C2"], "range": ["#000000", "#c0c0c0"]}, "legend": {"title": null, "legendX": 204, "legendY": 289}}
      }},
     {"data": {"name": "t2"}, "mark": {"type": "point", "shape": "square", "size": 64, "filled": true, "opacity": 1},
      "encoding": {
       "x": {"field": "t", "type": "quantitative"},
       "y": {"field": "y", "type": "quantitative"},
       "color": {"datum": "Temp_C2", "type": "nominal"}
      }}
    ]
   }
  ]
 },
 {
  "bounds": "flush", "spacing": 0,
  "hconcat": [
   {"width": 84, "height": 10, "data": {"values": []}, "mark": "point", "view": {"stroke": null, "fill": "white"}},
   {
    "width": 1004, "height": 339,
    "data": {"name": "gas"},
    "mark": {"type": "point", "shape": "square", "size": 64, "filled": true, "opacity": 1, "color": "#000000"},
    "encoding": {
     "x": {"field": "t", "type": "quantitative", "scale": {"domain": [0, 80], "nice": false}, "axis": {"values": [0, 10, 20, 30, 40, 50, 60, 70, 80], "title": "Versuchsdauer in h", "titleY": 93, "titleBaseline": "alphabetic"}},
     "y": {"field": "y", "type": "quantitative", "scale": {"domain": [0, 6], "nice": false}, "axis": {"values": [0, 1, 2, 3, 4, 5, 6], "title": "Gasproduktion in l/h", "titleX": -75, "titleAngle": 270, "titleBaseline": "top", "labelPadding": 12}}
    }
   }
  ]
 }
]
}
